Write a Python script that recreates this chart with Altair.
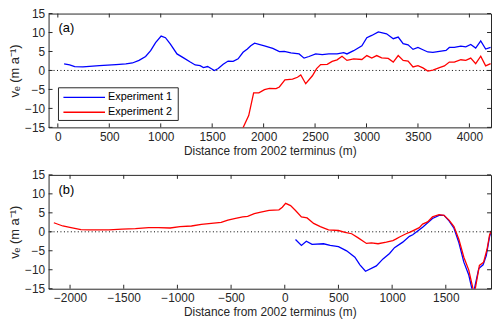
import altair as alt
import pandas as pd

# ---------------- data ----------------
# Panel (a)
a_exp1_x = [61, 115, 164, 244, 404, 565, 661, 725, 789, 853, 902, 950, 1004, 1046, 1094, 1158,
            1222, 1287, 1335, 1383, 1415, 1456, 1489, 1521, 1559, 1607, 1655, 1704, 1752, 1800,
            1842, 1875, 1912, 2008, 2089, 2153, 2201, 2265, 2345, 2393, 2441, 2506, 2570, 2634,
            2714, 2778, 2810, 2875, 2955, 3003, 3051, 3115, 3195, 3260, 3308, 3356, 3404, 3452,
            3500, 3548, 3596, 3645, 3709, 3773, 3805, 3853, 3917, 3965, 4013, 4061, 4110, 4158, 4206]
a_exp1_y = [1.71, 1.45, 1.03, 0.94, 1.28, 1.54, 1.71, 1.97, 2.65, 3.68, 5.21, 7.35, 9.06, 8.63,
            6.92, 4.36, 3.33, 2.22, 1.45, 1.28, 0.77, 1.03, 0.51, 0.0, 0.51, 1.62, 2.48, 2.39,
            3.08, 4.79, 5.64, 6.5, 7.18, 6.5, 5.81, 4.96, 5.04, 4.62, 4.36, 3.25, 3.68, 4.36,
            4.19, 4.36, 4.36, 4.7, 4.36, 5.21, 6.5, 8.63, 9.23, 10.17, 9.66, 8.38, 8.8, 7.09,
            6.75, 5.56, 6.07, 5.47, 4.87, 4.79, 5.04, 5.3, 6.07, 6.07, 6.41, 6.24, 6.84, 5.9,
            7.78, 5.64, 6.07]

a_exp2_x = [1785, 1800, 1855, 1903, 1954, 2008, 2057, 2121, 2153, 2207, 2281, 2329, 2361, 2409,
            2474, 2515, 2554, 2618, 2666, 2714, 2762, 2810, 2875, 2955, 3003, 3051, 3099, 3147,
            3211, 3260, 3308, 3356, 3404, 3452, 3500, 3548, 3596, 3645, 3709, 3757, 3805, 3853,
            3917, 3965, 4013, 4061, 4110, 4158, 4206]
a_exp2_y = [-16.5, -15.1, -11.9, -5.9, -5.9, -5.04, -4.7, -4.8, -4.36, -2.48, -2.3, -1.8, -1.2,
            -3.5, -1.4, 0.5, 1.54, 1.6, 2.4, 2.8, 3.76, 2.65, 3.08, 2.9, 3.93, 3.25, 3.93, 3.33,
            3.16, 2.22, 3.93, 2.65, 2.48, 0.94, 1.28, 0.68, -0.17, 0.09, 0.77, 1.2, 2.22, 2.22,
            2.82, 2.65, 3.25, 1.8, 3.76, 1.2, 1.8]

# Panel (b)
b_exp1_x = [100, 155, 201, 254, 361, 423, 500, 576, 653, 700, 752, 853, 915, 976, 1022, 1099,
            1161, 1192, 1284, 1376, 1437, 1483, 1530, 1576, 1622, 1668, 1714, 1755, 1807, 1847,
            1877, 1908, 1925]
b_exp1_y = [-2.04, -3.58, -2.47, -3.32, -3.15, -3.58, -3.92, -5.02, -6.7, -8.7, -10.4, -9.0,
            -7.15, -5.7, -4.17, -2.73, -1.19, -0.77, 1.19, 3.5, 4.34, 4.34, 2.9, 0.94, -2.9,
            -8.0, -11.4, -16.5, -9.7, -8.7, -6.3, -1.19, 0.2]

b_exp2_x = [-2151, -2068, -1991, -1899, -1822, -1730, -1637, -1515, -1391, -1268, -1176, -1068,
            -976, -869, -777, -685, -592, -530, -469, -392, -346, -284, -223, -146, -54, -23, 8,
            54, 100, 155, 208, 269, 331, 407, 500, 561, 623, 684, 761, 807, 869, 946, 1007,
            1038, 1069, 1130, 1161, 1192, 1253, 1284, 1330, 1376, 1437, 1483, 1530, 1576, 1622,
            1668, 1714, 1765, 1813, 1852, 1884, 1908, 1925]
b_exp2_y = [2.38, 1.53, 1.1, 0.6, 0.51, 0.51, 0.5, 0.68, 0.85, 1.1, 1.1, 1.0, 1.36, 1.53, 1.96,
            2.2, 2.46, 3.07, 3.5, 3.92, 4.09, 4.77, 5.2, 5.62, 5.79, 6.47, 7.5, 6.9, 5.62, 3.92,
            3.66, 2.22, 1.36, 0.51, 0.34, -0.17, -0.51, -1.6, -3.07, -2.9, -3.15, -2.73, -2.3,
            -1.87, -1.36, -0.51, -0.17, 0.26, 1.1, 2.04, 2.6, 3.92, 4.51, 4.34, 3.07, 1.36,
            -2.04, -6.7, -10.1, -16.5, -8.86, -8.0, -4.6, -0.77, 0.3]

series_names = ["Experiment 1", "Experiment 2"]
series_colors = ["#0000FF", "#FF0000"]

a_x_ticks = [0, 500, 1000, 1500, 2000, 2500, 3000, 3500, 4000]
b_x_ticks = [-2000, -1500, -1000, -500, 0, 500, 1000, 1500]
y_ticks = [-15, -10, -5, 0, 5, 10, 15]

a_domain = [-90, 4210]
b_domain = [-2200, 1921]
y_domain = [-15, 15]

x_title = "Distance from 2002 terminus (m)"
y_title = "vₑ (m a⁻¹)"
panel_labels = ["(a)", "(b)"]

W = 447
H = 115
FONT = "Liberation Sans"
AX = "#262626"


def panel(exp1_x, exp1_y, exp2_x, exp2_y, x_ticks, x_domain, label, with_legend):
    rows = []
    for xv, yv in zip(exp1_x, exp1_y):
        rows.append({"x": xv, "y": yv, "series": series_names[0]})
    for xv, yv in zip(exp2_x, exp2_y):
        rows.append({"x": xv, "y": yv, "series": series_names[1]})
    df = pd.DataFrame(rows)

    xs = alt.Scale(domain=x_domain, nice=False, zero=False)
    ys = alt.Scale(domain=y_domain, nice=False, zero=False)
    x_axis = alt.Axis(values=x_ticks, title=x_title, format="d", labelFlush=False, domain=False,
                      ticks=False, grid=False, labelPadding=4, titlePadding=3)
    y_axis = alt.Axis(values=y_ticks, title=y_title, format="d", domain=False, ticks=False,
                      grid=False, labelPadding=4, titlePadding=3, titleFontSize=13)

    lines = alt.Chart(df).mark_line(strokeWidth=1.3, clip=True).encode(
        x=alt.X("x:Q", scale=xs, axis=x_axis),
        y=alt.Y("y:Q", scale=ys, axis=y_axis),
        color=alt.Color("series:N", scale=alt.Scale(domain=series_names, range=series_colors),
                        legend=None),
        detail="series:N",
    )

    zero = alt.Chart(pd.DataFrame({"y": [0]})).mark_rule(
        color="black", strokeDash=[1, 2.5], strokeWidth=1
    ).encode(y=alt.Y("y:Q", scale=ys, axis=y_axis))

    xt = pd.DataFrame({"x": x_ticks})
    yt = pd.DataFrame({"y": y_ticks})
    tick_style = dict(color=AX, strokeWidth=1)
    xt_bottom = alt.Chart(xt).mark_rule(**tick_style).encode(
        x=alt.X("x:Q", scale=xs, axis=x_axis), y=alt.value(H - 4), y2=alt.value(H))
    xt_top = alt.Chart(xt).mark_rule(**tick_style).encode(
        x=alt.X("x:Q", scale=xs, axis=x_axis), y=alt.value(0), y2=alt.value(4))
    yt_left = alt.Chart(yt).mark_rule(**tick_style).encode(
        y=alt.Y("y:Q", scale=ys, axis=y_axis), x=alt.value(0), x2=alt.value(4))
    yt_right = alt.Chart(yt).mark_rule(**tick_style).encode(
        y=alt.Y("y:Q", scale=ys, axis=y_axis), x=alt.value(W - 4), x2=alt.value(W))

    lab = alt.Chart(pd.DataFrame({"t": [label]})).mark_text(
        align="left", baseline="middle", fontSize=13, font=FONT, color="black"
    ).encode(text="t:N", x=alt.value(10), y=alt.value(15))

    layers = [zero, lines, xt_bottom, xt_top, yt_left, yt_right, lab]

    if with_legend:
        box = alt.Chart(pd.DataFrame({"a": [0]})).mark_rect(
            fill="white", stroke=AX, strokeWidth=1
        ).encode(x=alt.value(10), x2=alt.value(131), y=alt.value(H - 40), y2=alt.value(H - 7))
        layers.append(box)
        for i, (nm, col) in enumerate(zip(series_names, series_colors)):
            yy = H - 30.3 + 15 * i
            ln = alt.Chart(pd.DataFrame({"s": [nm]})).mark_rule(
                color=col, strokeWidth=1.3
            ).encode(x=alt.value(15), x2=alt.value(57), y=alt.value(yy))
            tx = alt.Chart(pd.DataFrame({"s": [nm]})).mark_text(
                align="left", baseline="middle", fontSize=11, font=FONT, color="black"
            ).encode(text="s:N", x=alt.value(60), y=alt.value(yy))
            layers += [ln, tx]

    return alt.layer(*layers).properties(width=W, height=H)


top = panel(a_exp1_x, a_exp1_y, a_exp2_x, a_exp2_y, a_x_ticks, a_domain, panel_labels[0], True)
bottom = panel(b_exp1_x, b_exp1_y, b_exp2_x, b_exp2_y, b_x_ticks, b_domain, panel_labels[1], False)

chart = alt.vconcat(top, bottom, spacing=11).properties(
    padding={"top": -3, "left": 0, "right": 0, "bottom": 0}
).configure_view(
    stroke=AX, strokeWidth=1
).configure_axis(
    labelFont=FONT, titleFont=FONT, labelFontSize=12, titleFontSize=12,
    labelColor=AX, titleColor=AX, titleFontWeight="normal"
)

chart.save("out.html", embed_options={"renderer": "svg", "actions": False})
